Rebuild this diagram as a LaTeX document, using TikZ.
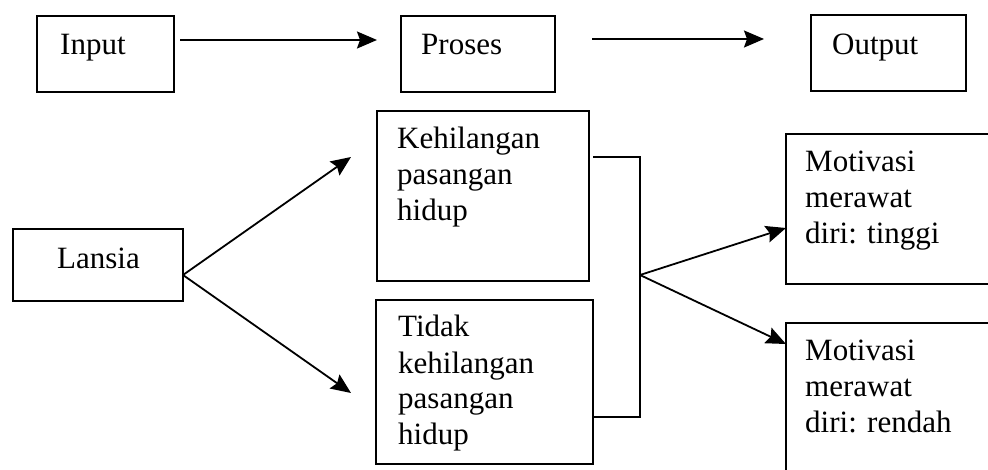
\documentclass[tikz,border=0pt]{standalone}
\usepackage{fontspec}
\setmainfont{Liberation Serif}
\usetikzlibrary{arrows.meta}
\begin{document}
\begin{tikzpicture}[x=1pt,y=-1pt,
  box/.style={draw, line width=1.8pt, inner sep=0pt, anchor=north west},
  txt/.style={anchor=base west, inner sep=0pt, font=\fontsize{31}{36}\selectfont},
  arr/.style={line width=1.8pt, -{Stealth[length=20pt,width=17pt,inset=3pt]}},
  lnk/.style={line width=1.6pt}]
\useasboundingbox (0,0) rectangle (988,470);
\clip (0,0) rectangle (988,470);
% boxes
\node[box, minimum width=137pt, minimum height=76pt] (input) at (36,15) {};
\node[box, minimum width=154pt, minimum height=76pt] (proses) at (400,15) {};
\node[box, minimum width=155pt, minimum height=76pt] (output) at (810,14) {};
\node[box, minimum width=170pt, minimum height=72pt] (lansia) at (12,228) {};
\node[box, minimum width=212pt, minimum height=170pt] (keh) at (376,110) {};
\node[box, minimum width=217pt, minimum height=164pt] (tidak) at (375,299) {};
\node[box, minimum width=240pt, minimum height=150pt] (tinggi) at (785,133) {};
\node[box, minimum width=240pt, minimum height=200pt] (rendah) at (785,322) {};
% texts
\node[txt] (input-t) at (60,55) {Input};
\node[txt] (proses-t) at (421,55) {Proses};
\node[txt] (output-t) at (832,55) {Output};
\node[txt] (lansia-t) at (57,269) {Lansia};
\node[txt] (keh-t) at (397,149) {\begin{tabular}[t]{@{}l@{}}Kehilangan\\pasangan\\hidup\end{tabular}};
\node[txt] (tidak-t) at (398,337) {\begin{tabular}[t]{@{}l@{}}Tidak\\kehilangan\\pasangan\\hidup\end{tabular}};
\node[txt] (tinggi-t) at (805,172) {\begin{tabular}[t]{@{}l@{}}Motivasi\\merawat\\diri: tinggi\end{tabular}};
\node[txt] (rendah-t) at (805,360) {\begin{tabular}[t]{@{}l@{}}Motivasi\\merawat\\diri: rendah\end{tabular}};
% connector ends
\coordinate (a1s) at (180,40);
\coordinate (a1e) at (377,40);
\coordinate (a2s) at (592,39);
\coordinate (a2e) at (764,39);
\coordinate (ls) at (183,275);
\coordinate (t1) at (351,157);
\coordinate (t2) at (351,393);
\coordinate (bt) at (593,157);
\coordinate (bb) at (593,417);
\coordinate (j) at (640,275);
\coordinate (t3) at (786,228);
\coordinate (t4) at (786,344);
% connectors
\draw[arr] (a1s) -- (a1e);
\draw[arr] (a2s) -- (a2e);
\draw[arr] (ls) -- (t1);
\draw[arr] (ls) -- (t2);
\draw[lnk] (bt) -- (bt -| j) -- (bb -| j) -- (bb);
\draw[arr] (j) -- (t3);
\draw[arr] (j) -- (t4);
\end{tikzpicture}
\end{document}
